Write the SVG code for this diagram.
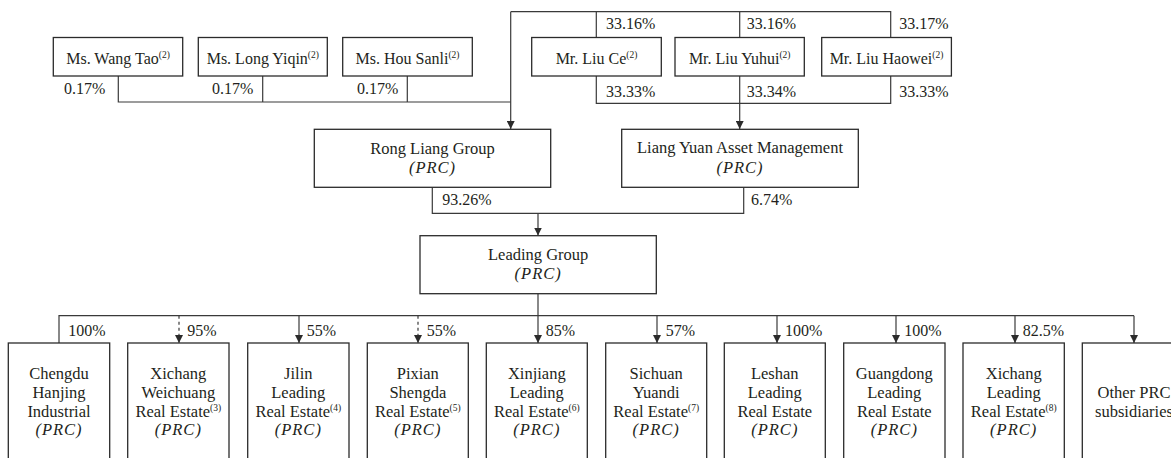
<svg xmlns="http://www.w3.org/2000/svg" width="1171" height="458" viewBox="0 0 1171 458">
<defs>
<marker id="ah" markerUnits="userSpaceOnUse" markerWidth="8" markerHeight="8" refX="3.5" refY="7" orient="0" viewBox="0 0 7 7">
<path d="M0,0 L7,0 L3.5,7 z" fill="#2b2b2b"/>
</marker>
</defs>
<style>
.t{font-family:"Liberation Serif","Times New Roman",serif;fill:#231f20;font-size:16px}
.b{font-size:16.5px}
.c{text-anchor:middle}
.i{font-style:italic;letter-spacing:1px}
.s{font-size:9.5px}
.box{fill:#fff;stroke:#2b2b2b;stroke-width:1.3}
.ln{fill:none;stroke:#3a3a3a;stroke-width:1.2}
.dash{stroke-dasharray:3 3}
</style>
<rect width="1171" height="458" fill="#fff"/>

<g id="connectors">
<path class="ln" d="M118.3,76 V102 H510.7 M262.7,76 V102 M407.3,76 V102"/>
<path class="ln" d="M510.7,11.7 H890.7 V37.5 M596.3,11.7 V37.5 M739.7,11.7 V37.5"/>
<path class="ln" d="M510.7,11.7 V129" marker-end="url(#ah)"/>
<path class="ln" d="M596.3,76 V103.3 H890.7 V76"/>
<path class="ln" d="M739.7,76 V129" marker-end="url(#ah)"/>
<path class="ln" d="M432.3,187.3 V213.3 H743.7 V187.3"/>
<path class="ln" d="M538,213.3 V235.5" marker-end="url(#ah)"/>
<path class="ln" d="M538,293.7 V343" marker-end="url(#ah)"/>
<path class="ln" d="M59,343 V315.7 H1134"/>
<path class="ln dash" d="M179,315.7 V343" marker-end="url(#ah)"/>
<path class="ln" d="M299,315.7 V343" marker-end="url(#ah)"/>
<path class="ln dash" d="M418,315.7 V343" marker-end="url(#ah)"/>
<path class="ln" d="M657,315.7 V343" marker-end="url(#ah)"/>
<path class="ln" d="M777,315.7 V343" marker-end="url(#ah)"/>
<path class="ln" d="M896,315.7 V343" marker-end="url(#ah)"/>
<path class="ln" d="M1015,315.7 V343" marker-end="url(#ah)"/>
<path class="ln" d="M1134,315.7 V343" marker-end="url(#ah)"/>
<g class="t">
<text x="64" y="94.3">0.17%</text>
<text x="212" y="94.3">0.17%</text>
<text x="357" y="94.3">0.17%</text>
<text x="606" y="29.3">33.16%</text>
<text x="746.7" y="29.3">33.16%</text>
<text x="899.3" y="29.3">33.17%</text>
<text x="606" y="96.7">33.33%</text>
<text x="746.7" y="96.7">33.34%</text>
<text x="899.3" y="96.7">33.33%</text>
<text x="442.3" y="205.3">93.26%</text>
<text x="751" y="205.3">6.74%</text>
<text x="68.3" y="336">100%</text>
<text x="187.3" y="336">95%</text>
<text x="306.7" y="336">55%</text>
<text x="426.7" y="336">55%</text>
<text x="545.7" y="336">85%</text>
<text x="665.7" y="336">57%</text>
<text x="785" y="336">100%</text>
<text x="904.3" y="336">100%</text>
<text x="1022.7" y="336">82.5%</text>
</g>
</g>

<g id="wang-tao"><rect class="box" x="53.3" y="37.5" width="129.4" height="38.5"/><text class="t c" x="118" y="64.3">Ms. Wang Tao<tspan class="s" dy="-6">(2)</tspan></text></g>
<g id="long-yiqin"><rect class="box" x="198.3" y="37.5" width="129" height="38.5"/><text class="t c" x="262.8" y="64.3">Ms. Long Yiqin<tspan class="s" dy="-6">(2)</tspan></text></g>
<g id="hou-sanli"><rect class="box" x="342.7" y="37.5" width="129.6" height="38.5"/><text class="t c" x="407.5" y="64.3">Ms. Hou Sanli<tspan class="s" dy="-6">(2)</tspan></text></g>
<g id="liu-ce"><rect class="box" x="531.7" y="37.5" width="129.6" height="38.5"/><text class="t c" x="596.5" y="64.3">Mr. Liu Ce<tspan class="s" dy="-6">(2)</tspan></text></g>
<g id="liu-yuhui"><rect class="box" x="675" y="37.5" width="129.3" height="38.5"/><text class="t c" x="739.7" y="64.3">Mr. Liu Yuhui<tspan class="s" dy="-6">(2)</tspan></text></g>
<g id="liu-haowei"><rect class="box" x="821.7" y="37.5" width="129.7" height="38.5"/><text class="t c" x="886.5" y="64.3">Mr. Liu Haowei<tspan class="s" dy="-6">(2)</tspan></text></g>

<g id="rong-liang"><rect class="box" x="314.3" y="129.3" width="236.4" height="58"/><text class="t b c" x="432.5" y="154.3">Rong Liang Group</text><text class="t b c i" x="432.5" y="173.3">(PRC)</text></g>
<g id="liang-yuan"><rect class="box" x="621.7" y="129.3" width="236.6" height="58"/><text class="t b c" x="740" y="153.3">Liang Yuan Asset Management</text><text class="t b c i" x="740" y="173.3">(PRC)</text></g>
<g id="leading-group"><rect class="box" x="420" y="235.7" width="236.3" height="58"/><text class="t b c" x="538.2" y="260">Leading Group</text><text class="t b c i" x="538.2" y="279.3">(PRC)</text></g>

<g id="chengdu"><rect class="box" x="8.3" y="343" width="101.4" height="130"/><text class="t b c" x="59" y="379">Chengdu</text><text class="t b c" x="59" y="397.7">Hanjing</text><text class="t b c" x="59" y="416.7">Industrial</text><text class="t b c i" x="59" y="435">(PRC)</text></g>
<g id="xichang-weichuang"><rect class="box" x="127.7" y="343" width="101.3" height="130"/><text class="t b c" x="178.3" y="379">Xichang</text><text class="t b c" x="178.3" y="397.7">Weichuang</text><text class="t b c" x="178.3" y="416.7">Real Estate<tspan class="s" dy="-6">(3)</tspan></text><text class="t b c i" x="178.3" y="435">(PRC)</text></g>
<g id="jilin"><rect class="box" x="247.7" y="343" width="101.3" height="130"/><text class="t b c" x="298.3" y="379">Jilin</text><text class="t b c" x="298.3" y="397.7">Leading</text><text class="t b c" x="298.3" y="416.7">Real Estate<tspan class="s" dy="-6">(4)</tspan></text><text class="t b c i" x="298.3" y="435">(PRC)</text></g>
<g id="pixian"><rect class="box" x="367.3" y="343" width="101" height="130"/><text class="t b c" x="417.8" y="379">Pixian</text><text class="t b c" x="417.8" y="397.7">Shengda</text><text class="t b c" x="417.8" y="416.7">Real Estate<tspan class="s" dy="-6">(5)</tspan></text><text class="t b c i" x="417.8" y="435">(PRC)</text></g>
<g id="xinjiang"><rect class="box" x="486.3" y="343" width="101" height="130"/><text class="t b c" x="536.8" y="379">Xinjiang</text><text class="t b c" x="536.8" y="397.7">Leading</text><text class="t b c" x="536.8" y="416.7">Real Estate<tspan class="s" dy="-6">(6)</tspan></text><text class="t b c i" x="536.8" y="435">(PRC)</text></g>
<g id="sichuan"><rect class="box" x="605.7" y="343" width="101" height="130"/><text class="t b c" x="656.2" y="379">Sichuan</text><text class="t b c" x="656.2" y="397.7">Yuandi</text><text class="t b c" x="656.2" y="416.7">Real Estate<tspan class="s" dy="-6">(7)</tspan></text><text class="t b c i" x="656.2" y="435">(PRC)</text></g>
<g id="leshan"><rect class="box" x="724.3" y="343" width="101" height="130"/><text class="t b c" x="774.8" y="379">Leshan</text><text class="t b c" x="774.8" y="397.7">Leading</text><text class="t b c" x="774.8" y="416.7">Real Estate</text><text class="t b c i" x="774.8" y="435">(PRC)</text></g>
<g id="guangdong"><rect class="box" x="843.7" y="343" width="101.3" height="130"/><text class="t b c" x="894.3" y="379">Guangdong</text><text class="t b c" x="894.3" y="397.7">Leading</text><text class="t b c" x="894.3" y="416.7">Real Estate</text><text class="t b c i" x="894.3" y="435">(PRC)</text></g>
<g id="xichang-leading"><rect class="box" x="963" y="343" width="101.3" height="130"/><text class="t b c" x="1013.7" y="379">Xichang</text><text class="t b c" x="1013.7" y="397.7">Leading</text><text class="t b c" x="1013.7" y="416.7">Real Estate<tspan class="s" dy="-6">(8)</tspan></text><text class="t b c i" x="1013.7" y="435">(PRC)</text></g>
<g id="other"><rect class="box" x="1082.3" y="343" width="101.4" height="130"/><text class="t b c" x="1134" y="397.7">Other PRC</text><text class="t b c" x="1134" y="416.7">subsidiaries</text></g>
</svg>
